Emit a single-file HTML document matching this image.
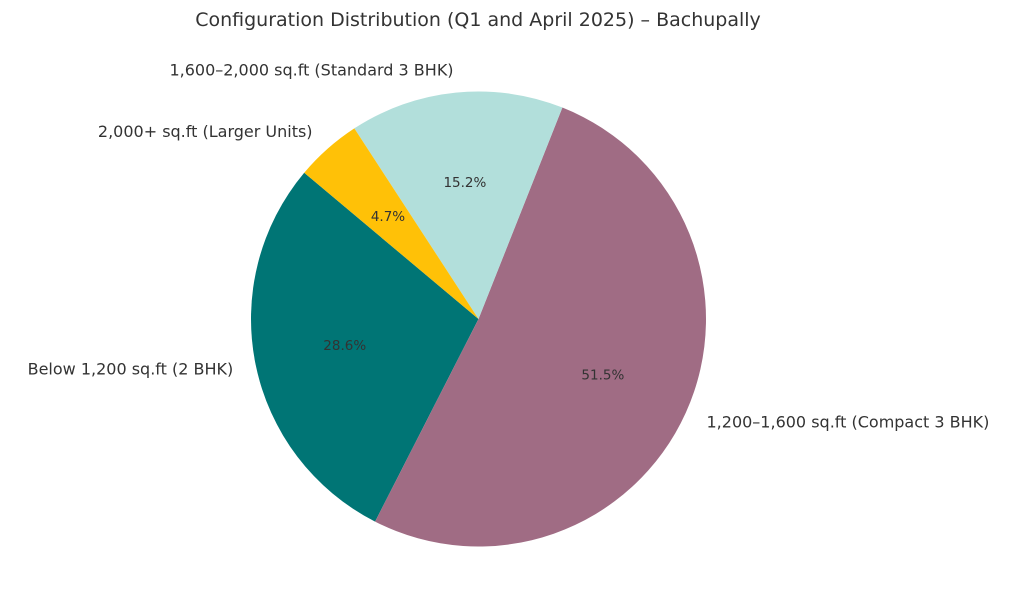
<!DOCTYPE html>
<html><head><meta charset="utf-8"><style>
html,body{margin:0;padding:0;background:#fff;}
svg{display:block;font-family:"DejaVu Sans","Liberation Sans",sans-serif;}
</style></head><body>
<svg id="chart" width="1024" height="614" viewBox="0 0 1024 614">
<text x="478" y="26" text-anchor="middle" font-size="19" fill="#333">Configuration Distribution (Q1 and April 2025) – Bachupally</text>
<g id="slices"></g>
</svg>
<script>
const categories = ["Below 1,200 sq.ft (2 BHK)", "1,200–1,600 sq.ft (Compact 3 BHK)", "1,600–2,000 sq.ft (Standard 3 BHK)", "2,000+ sq.ft (Larger Units)"];
const values = [28.6, 51.5, 15.2, 4.7];
const colors = ["#007575", "#a06c84", "#b2dfdb", "#ffc107"];
const startAngle = 140;
const cx = 478.5, cy = 319, r = 227.5;
const ns = "http://www.w3.org/2000/svg";
const g = document.getElementById("slices");
const total = values.reduce((a, b) => a + b, 0);
function pt(deg, rad) { const a = deg * Math.PI / 180; return [cx + rad * Math.cos(a), cy - rad * Math.sin(a)]; }
let ang = startAngle;
values.forEach((v, i) => {
  const sweep = v / total * 360;
  const a0 = ang, a1 = ang + sweep;
  const p0 = pt(a0, r), p1 = pt(a1, r);
  const path = document.createElementNS(ns, "path");
  path.setAttribute("d", `M${cx},${cy} L${p0[0]},${p0[1]} A${r},${r} 0 ${sweep > 180 ? 1 : 0} 0 ${p1[0]},${p1[1]} Z`);
  path.setAttribute("fill", colors[i]);
  
  
  g.appendChild(path);
  const mid = (a0 + a1) / 2;
  const lp = pt(mid, r * 1.1);
  const lab = document.createElementNS(ns, "text");
  lab.setAttribute("x", lp[0]); lab.setAttribute("y", lp[1]);
  lab.setAttribute("text-anchor", lp[0] < cx ? "end" : "start");
  lab.setAttribute("dominant-baseline", "central");
  lab.setAttribute("font-size", "16"); lab.setAttribute("fill", "#333");
  lab.textContent = categories[i];
  
  
  g.appendChild(lab);
  const pp = pt(mid, r * 0.6);
  const pct = document.createElementNS(ns, "text");
  pct.setAttribute("x", pp[0]); pct.setAttribute("y", pp[1]);
  pct.setAttribute("text-anchor", "middle");
  pct.setAttribute("dominant-baseline", "central");
  pct.setAttribute("font-size", "13.5"); pct.setAttribute("fill", "#333");
  pct.textContent = (v / total * 100).toFixed(1) + "%";
  
  
  g.appendChild(pct);
  ang = a1;
});
</script>
</body></html>
